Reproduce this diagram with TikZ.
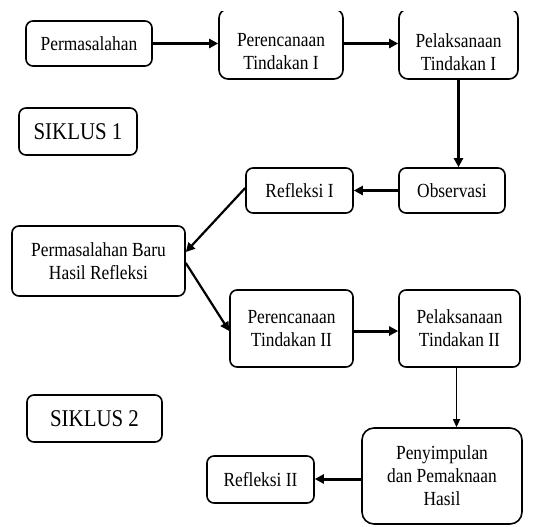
\documentclass[tikz,border=0pt]{standalone}
\usepackage{fontspec}
\setmainfont[FakeStretch=0.87]{Liberation Serif}
\usetikzlibrary{arrows.meta}
\begin{document}
\begin{tikzpicture}[x=1pt,y=-1pt,
  box/.style={draw, line width=1.6pt, rounded corners=7pt, align=center,
    font=\fontsize{20}{23}\selectfont, inner sep=0pt},
  txt/.style={align=center, font=\fontsize{20}{23}\selectfont, inner sep=0pt},
  big/.style={font=\fontsize{24}{27}\selectfont},
  thickarrow/.style={line width=3pt, -{Triangle[length=9pt,width=9pt]}},
  midarrow/.style={line width=2.2pt, -{Triangle[length=9pt,width=9pt]}},
  thinarrow/.style={line width=1pt, -{Triangle[length=8pt,width=7pt]}}]
\useasboundingbox (0,0) rectangle (538,527);

\node[box, minimum width=126pt, minimum height=45pt] (perm) at (89,43.5) {Permasalahan};
\begin{scope}
  \clip (0,12) rectangle (538,100);
  \node[box, rounded corners=9pt, minimum width=124pt, minimum height=70pt] (pt1) at (281,44) {};
  \node[box, rounded corners=9pt, minimum width=119pt, minimum height=70pt] (pl1) at (458.5,44) {};
\end{scope}
\node[txt] (pt1t) at (281,52) {Perencanaan\\Tindakan I};
\node[txt] (pl1t) at (458.5,52) {Pelaksanaan\\Tindakan I};

\node[box, big, minimum width=118pt, minimum height=47pt] (s1) at (78,131.5) {SIKLUS 1};

\node[box, minimum width=107pt, minimum height=45pt] (ref1) at (299.5,190.5) {Refleksi I};
\node[box, minimum width=106pt, minimum height=45pt] (obs) at (452,190.5) {Observasi};

\node[box, minimum width=173pt, minimum height=70pt] (pb) at (98.5,261) {Permasalahan Baru\\Hasil Refleksi};

\node[box, minimum width=123pt, minimum height=77pt] (pt2) at (291.5,328.5) {Perencanaan\\Tindakan II};
\node[box, minimum width=121pt, minimum height=77pt] (pl2) at (459.5,328.5) {Pelaksanaan\\Tindakan II};

\node[box, big, minimum width=135pt, minimum height=47pt] (s2) at (94.5,418.5) {SIKLUS 2};

\node[box, rounded corners=12pt, minimum width=160pt, minimum height=96pt] (pen) at (442,476) {Penyimpulan\\dan Pemaknaan\\Hasil};
\node[box, minimum width=107pt, minimum height=47pt] (ref2) at (260.5,479.5) {Refleksi II};

\draw[thickarrow] (perm.east) -- (perm.east -| pt1.west);
\draw[thickarrow] (perm.east -| pt1.east) -- (perm.east -| pl1.west);
\draw[thickarrow] (pl1.south) -- (pl1.south |- obs.north);
\draw[thickarrow] (obs.west) -- (ref1.east);
\draw[midarrow] ([yshift=2.5pt]ref1.west) -- ([yshift=9pt]pb.east);
\draw[midarrow] ([yshift=-2pt]pb.east) -- ([yshift=-2.5pt]pt2.west);
\draw[thickarrow] ([yshift=-2.5pt]pt2.east) -- ([yshift=-2.5pt]pt2.east -| pl2.west);
\draw[thinarrow] ([xshift=-3pt]pl2.south) -- ([xshift=-3pt]pl2.south |- pen.north);
\draw[thickarrow] ([yshift=-3pt]pen.west) -- ([yshift=-3pt]pen.west -| ref2.east);
\end{tikzpicture}
\end{document}
